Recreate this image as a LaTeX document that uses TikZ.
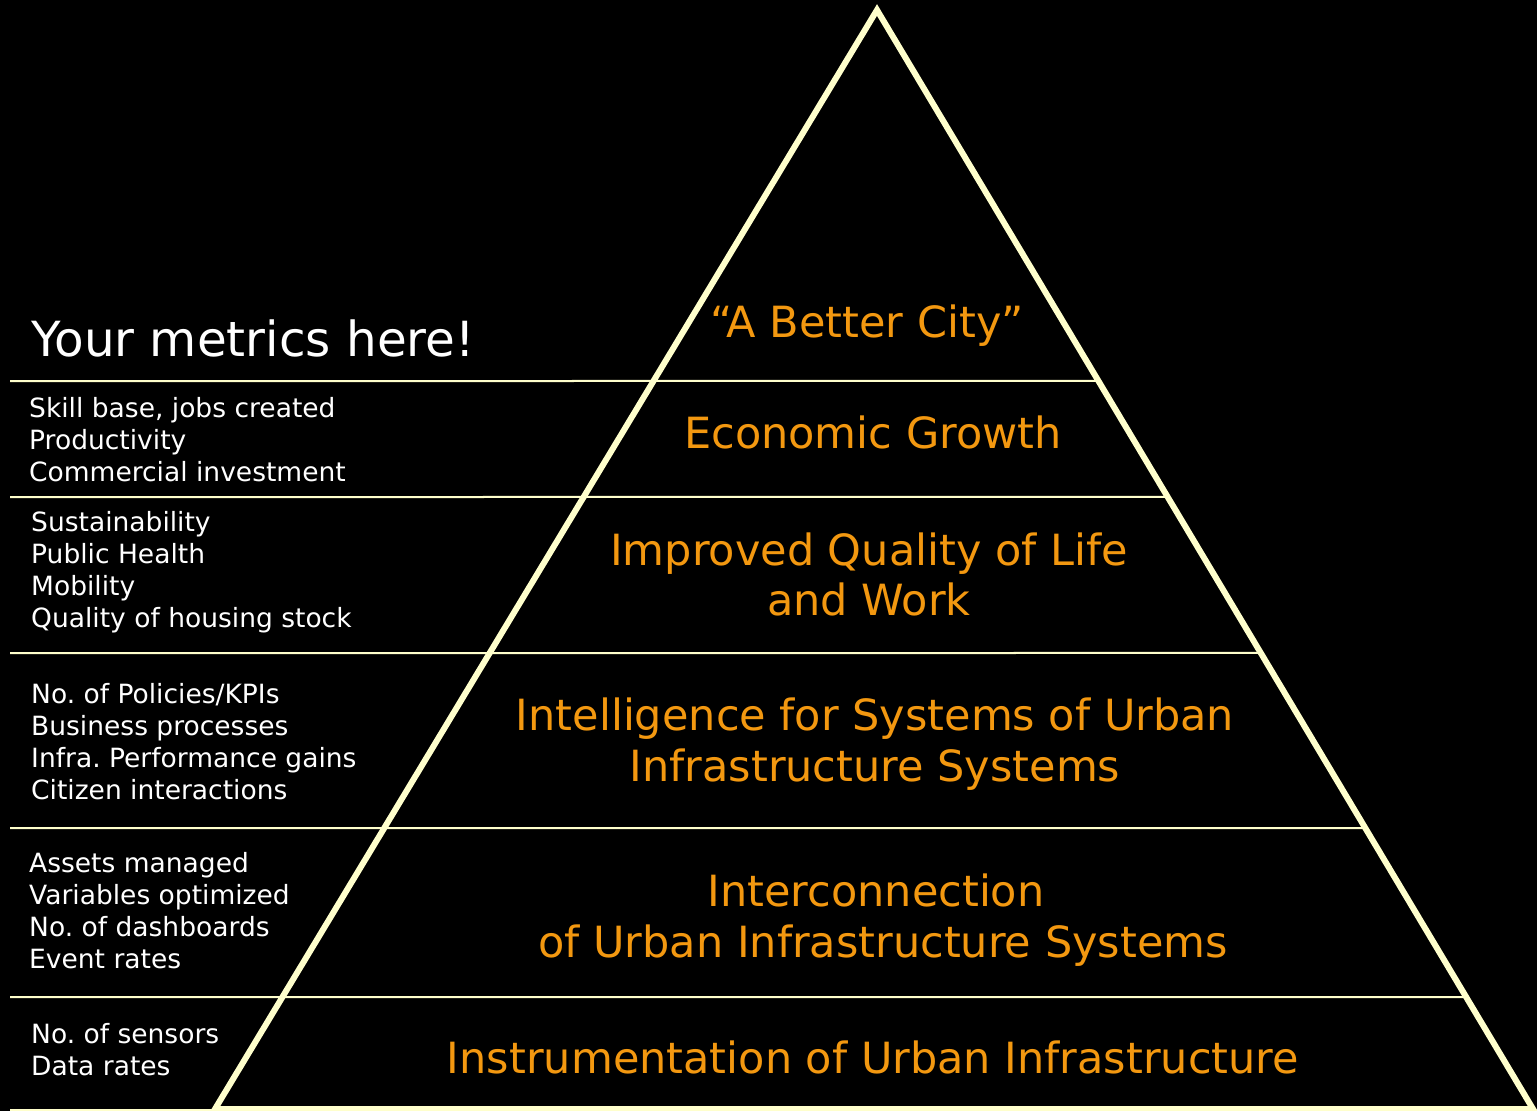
\documentclass[tikz,border=0pt]{standalone}
\usepackage{fontspec}
\setmainfont{DejaVu Sans}
\usetikzlibrary{calc}
\frenchspacing
\definecolor{cream}{RGB}{255,255,204}
\definecolor{orng}{RGB}{243,152,16}
\tikzset{
  edge/.style={draw=cream, line width=6pt, line join=miter},
  hline/.style={draw=cream, line width=2pt},
  metric/.style={anchor=base west, inner sep=0pt, text=white, font=\fontsize{26.5}{32}\selectfont},
  level/.style={anchor=base, inner sep=0pt, text=orng, font=\fontsize{43}{50}\selectfont},
  heading/.style={anchor=base west, inner sep=0pt, text=white, font=\fontsize{48.4}{56}\selectfont}
}
\begin{document}
\begin{tikzpicture}[x=1pt,y=-1pt]
\fill[black] (0,0) rectangle (1537,1111);
\useasboundingbox (0,0) rectangle (1537,1111);
\coordinate (apex) at (877,10);
\coordinate (bl) at (215,1109);
\coordinate (br) at (1533,1109);
% horizontal separators
\foreach \yy in {381,497,653,828,997} {
  \draw[hline] (10,\yy) -- ($(apex)!{(\yy-10)/1099}!(br)$);
}
\fill[cream] (10,1108.5) rectangle (bl |- 0,1111);
\fill[cream] (bl |- 0,1106) rectangle (br |- 0,1111);
% triangle
\draw[edge] (apex) -- (bl) -- (br) -- cycle;
% heading
\node[heading] (head) at (31,356) {Your metrics here!};
% metrics
\node[metric] (m11) at (29,417) {Skill base, jobs created};
\node[metric] (m12) at (29,449) {Productivity};
\node[metric] (m13) at (29,481) {Commercial investment};
\node[metric] (m21) at (31,531) {Sustainability};
\node[metric] (m22) at (31,563) {Public Health};
\node[metric] (m23) at (31,595) {Mobility};
\node[metric] (m24) at (31,627) {Quality of housing stock};
\node[metric] (m31) at (31,703) {No. of Policies/KPIs};
\node[metric] (m32) at (31,735) {Business processes};
\node[metric] (m33) at (31,767) {Infra. Performance gains};
\node[metric] (m34) at (31,799) {Citizen interactions};
\node[metric] (m41) at (29,872) {Assets managed};
\node[metric] (m42) at (29,904) {Variables optimized};
\node[metric] (m43) at (29,936) {No. of dashboards};
\node[metric] (m44) at (29,968) {Event rates};
\node[metric] (m51) at (31,1043) {No. of sensors};
\node[metric] (m52) at (31,1075) {Data rates};
% levels
\node[level] (l0) at (867,337) {“A Better City”};
\node[level] (l1) at (873,448) {Economic Growth};
\node[level] (l2a) at (869,565) {Improved Quality of Life};
\node[level] (l2b) at (869,615) {and Work};
\node[level] (l3a) at (875,730) {Intelligence for Systems of Urban};
\node[level] (l3b) at (875,781) {Infrastructure Systems};
\node[level] (l4a) at (876,906) {Interconnection};
\node[level] (l4b) at (883,957) {of Urban Infrastructure Systems};
\node[level] (l5) at (873,1073) {Instrumentation of Urban Infrastructure};
\end{tikzpicture}
\end{document}
